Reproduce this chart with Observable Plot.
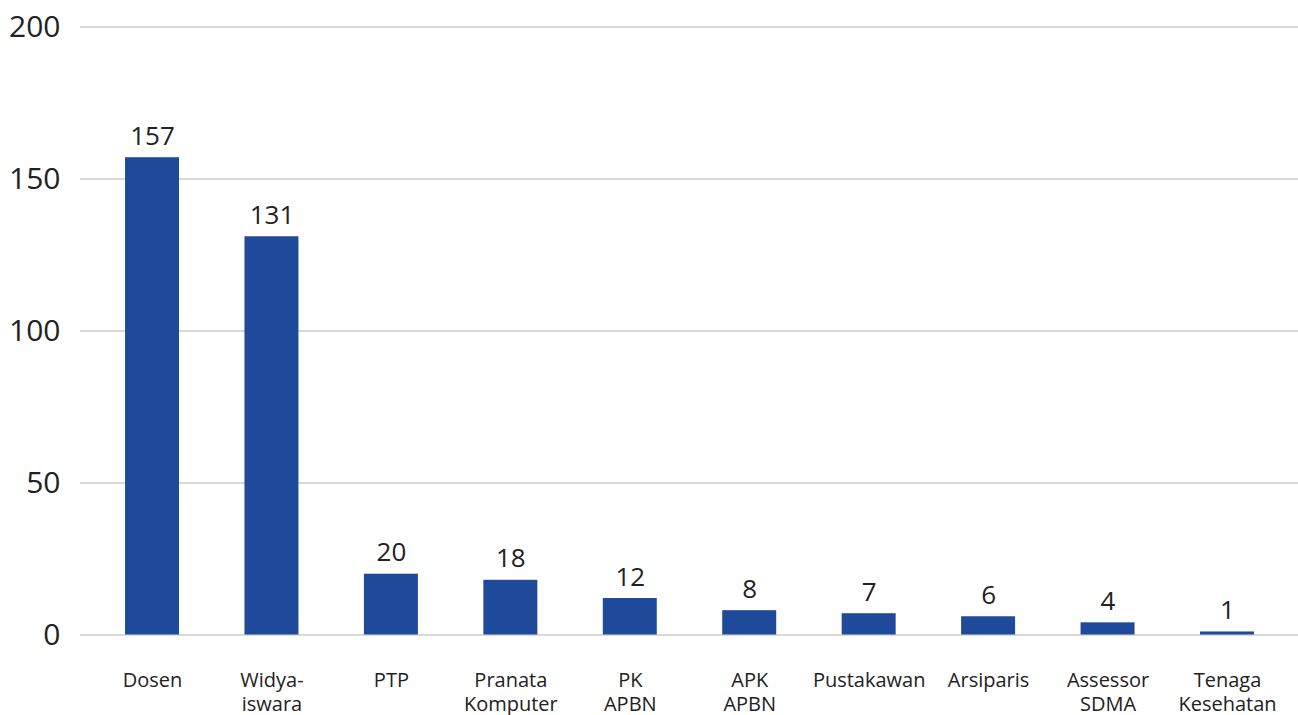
<!DOCTYPE html>
<html>
<head>
<meta charset="utf-8">
<script src="https://cdn.jsdelivr.net/npm/d3@7"></script>
<script src="https://cdn.jsdelivr.net/npm/@observablehq/plot@0.6"></script>
<style>
  html, body { margin: 0; padding: 0; background: #fff; }
  #chart svg { display: block; }
</style>
</head>
<body>
<div id="chart"></div>
<script>
const categories = ["Dosen", "Widya-\niswara", "PTP", "Pranata\nKomputer", "PK\nAPBN", "APK\nAPBN", "Pustakawan", "Arsiparis", "Assessor\nSDMA", "Tenaga\nKesehatan"];
const values = [157, 131, 20, 18, 12, 8, 7, 6, 4, 1];
const yTicks = [0, 50, 100, 150, 200];

const data = categories.map((c, i) => ({category: c, value: values[i]}));

const chart = Plot.plot({
  width: 1298,
  height: 715,
  marginTop: 26.5,
  marginBottom: 80.5,
  marginLeft: 80,
  marginRight: 0,
  style: {fontFamily: "'Open Sans', 'Noto Sans', sans-serif", color: "#222", background: "#fff"},
  x: {domain: categories, range: [92.3, 1286.7], paddingInner: 0.548, paddingOuter: 0.274, round: false, label: null},
  y: {domain: [0, 200], label: null},
  marks: [
    Plot.ruleY(yTicks, {stroke: "#d9d9d9", strokeWidth: 2}),
    Plot.barY(data, {x: "category", y: "value", fill: "#1F4A9A"}),
    Plot.text(data, {x: "category", y: "value", text: d => String(d.value), dy: -13, lineAnchor: "bottom", fontSize: 26, fill: "#222"}),
    Plot.axisY({ticks: yTicks, tickSize: 0, tickPadding: 20, fontSize: 30, fill: "#222", label: null}),
    Plot.axisX({tickSize: 0, tickPadding: 35, fontSize: 20, lineHeight: 1.2, fill: "#222", label: null})
  ]
});
document.getElementById("chart").appendChild(chart);
</script>
</body>
</html>
